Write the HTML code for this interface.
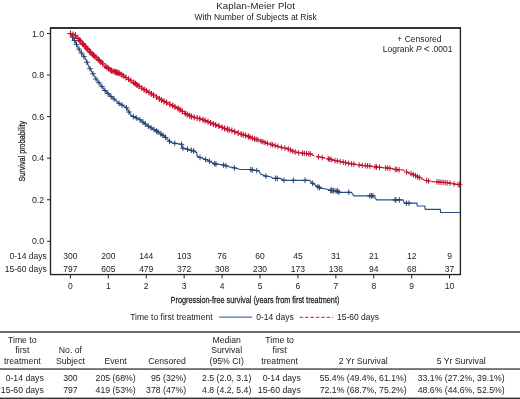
<!DOCTYPE html><html><head><meta charset="utf-8"><style>html,body{margin:0;padding:0;background:#fff;}svg{display:block;will-change:transform;font-family:"Liberation Sans",sans-serif;}</style></head><body><svg width="520" height="399" viewBox="0 0 520 399">
<rect width="520" height="399" fill="#fff"/>
<text x="255.6" y="8.9" font-size="9.6" text-anchor="middle" textLength="78.8" fill="#222">Kaplan-Meier Plot</text>
<text x="255.7" y="19.7" font-size="8.5" text-anchor="middle" fill="#222">With Number of Subjects at Risk</text>
<rect x="50.5" y="27.95" width="409.9" height="246.6" fill="none" stroke="#222" stroke-width="1.35"/>
<line x1="50" x2="461" y1="27.95" y2="27.95" stroke="#222" stroke-width="1.5"/>
<line x1="47" x2="50.5" y1="241.30" y2="241.30" stroke="#222" stroke-width="1"/>
<text x="44.2" y="244.30" font-size="8.8" text-anchor="end" fill="#222">0.0</text>
<line x1="47" x2="50.5" y1="199.74" y2="199.74" stroke="#222" stroke-width="1"/>
<text x="44.2" y="202.74" font-size="8.8" text-anchor="end" fill="#222">0.2</text>
<line x1="47" x2="50.5" y1="158.18" y2="158.18" stroke="#222" stroke-width="1"/>
<text x="44.2" y="161.18" font-size="8.8" text-anchor="end" fill="#222">0.4</text>
<line x1="47" x2="50.5" y1="116.62" y2="116.62" stroke="#222" stroke-width="1"/>
<text x="44.2" y="119.62" font-size="8.8" text-anchor="end" fill="#222">0.6</text>
<line x1="47" x2="50.5" y1="75.06" y2="75.06" stroke="#222" stroke-width="1"/>
<text x="44.2" y="78.06" font-size="8.8" text-anchor="end" fill="#222">0.8</text>
<line x1="47" x2="50.5" y1="33.50" y2="33.50" stroke="#222" stroke-width="1"/>
<text x="44.2" y="36.50" font-size="8.8" text-anchor="end" fill="#222">1.0</text>
<line x1="70.40" x2="70.40" y1="274.4" y2="278.3" stroke="#222" stroke-width="1"/>
<text x="70.40" y="288.7" font-size="8.5" text-anchor="middle" fill="#222">0</text>
<line x1="108.32" x2="108.32" y1="274.4" y2="278.3" stroke="#222" stroke-width="1"/>
<text x="108.32" y="288.7" font-size="8.5" text-anchor="middle" fill="#222">1</text>
<line x1="146.24" x2="146.24" y1="274.4" y2="278.3" stroke="#222" stroke-width="1"/>
<text x="146.24" y="288.7" font-size="8.5" text-anchor="middle" fill="#222">2</text>
<line x1="184.16" x2="184.16" y1="274.4" y2="278.3" stroke="#222" stroke-width="1"/>
<text x="184.16" y="288.7" font-size="8.5" text-anchor="middle" fill="#222">3</text>
<line x1="222.08" x2="222.08" y1="274.4" y2="278.3" stroke="#222" stroke-width="1"/>
<text x="222.08" y="288.7" font-size="8.5" text-anchor="middle" fill="#222">4</text>
<line x1="260.00" x2="260.00" y1="274.4" y2="278.3" stroke="#222" stroke-width="1"/>
<text x="260.00" y="288.7" font-size="8.5" text-anchor="middle" fill="#222">5</text>
<line x1="297.92" x2="297.92" y1="274.4" y2="278.3" stroke="#222" stroke-width="1"/>
<text x="297.92" y="288.7" font-size="8.5" text-anchor="middle" fill="#222">6</text>
<line x1="335.84" x2="335.84" y1="274.4" y2="278.3" stroke="#222" stroke-width="1"/>
<text x="335.84" y="288.7" font-size="8.5" text-anchor="middle" fill="#222">7</text>
<line x1="373.76" x2="373.76" y1="274.4" y2="278.3" stroke="#222" stroke-width="1"/>
<text x="373.76" y="288.7" font-size="8.5" text-anchor="middle" fill="#222">8</text>
<line x1="411.68" x2="411.68" y1="274.4" y2="278.3" stroke="#222" stroke-width="1"/>
<text x="411.68" y="288.7" font-size="8.5" text-anchor="middle" fill="#222">9</text>
<line x1="449.60" x2="449.60" y1="274.4" y2="278.3" stroke="#222" stroke-width="1"/>
<text x="449.60" y="288.7" font-size="8.5" text-anchor="middle" fill="#222">10</text>
<text transform="translate(24.8,151.2) rotate(-90) scale(0.77,1)" x="0" y="0" font-size="9.4" text-anchor="middle" fill="#222" stroke="#222" stroke-width="0.25">Survival probability</text>
<text transform="translate(255,303.1) scale(0.778,1)" x="0" y="0" font-size="9.4" text-anchor="middle" fill="#222" stroke="#222" stroke-width="0.25">Progression-free survival (years from first treatment)</text>
<text x="46.8" y="258.8" font-size="8.5" text-anchor="end" fill="#222">0-14 days</text>
<text x="46.8" y="271.6" font-size="8.5" text-anchor="end" fill="#222">15-60 days</text>
<text x="70.40" y="258.8" font-size="8.5" text-anchor="middle" fill="#222">300</text>
<text x="70.40" y="271.6" font-size="8.5" text-anchor="middle" fill="#222">797</text>
<text x="108.32" y="258.8" font-size="8.5" text-anchor="middle" fill="#222">200</text>
<text x="108.32" y="271.6" font-size="8.5" text-anchor="middle" fill="#222">605</text>
<text x="146.24" y="258.8" font-size="8.5" text-anchor="middle" fill="#222">144</text>
<text x="146.24" y="271.6" font-size="8.5" text-anchor="middle" fill="#222">479</text>
<text x="184.16" y="258.8" font-size="8.5" text-anchor="middle" fill="#222">103</text>
<text x="184.16" y="271.6" font-size="8.5" text-anchor="middle" fill="#222">372</text>
<text x="222.08" y="258.8" font-size="8.5" text-anchor="middle" fill="#222">76</text>
<text x="222.08" y="271.6" font-size="8.5" text-anchor="middle" fill="#222">308</text>
<text x="260.00" y="258.8" font-size="8.5" text-anchor="middle" fill="#222">60</text>
<text x="260.00" y="271.6" font-size="8.5" text-anchor="middle" fill="#222">230</text>
<text x="297.92" y="258.8" font-size="8.5" text-anchor="middle" fill="#222">45</text>
<text x="297.92" y="271.6" font-size="8.5" text-anchor="middle" fill="#222">173</text>
<text x="335.84" y="258.8" font-size="8.5" text-anchor="middle" fill="#222">31</text>
<text x="335.84" y="271.6" font-size="8.5" text-anchor="middle" fill="#222">136</text>
<text x="373.76" y="258.8" font-size="8.5" text-anchor="middle" fill="#222">21</text>
<text x="373.76" y="271.6" font-size="8.5" text-anchor="middle" fill="#222">94</text>
<text x="411.68" y="258.8" font-size="8.5" text-anchor="middle" fill="#222">12</text>
<text x="411.68" y="271.6" font-size="8.5" text-anchor="middle" fill="#222">68</text>
<text x="449.60" y="258.8" font-size="8.5" text-anchor="middle" fill="#222">9</text>
<text x="449.60" y="271.6" font-size="8.5" text-anchor="middle" fill="#222">37</text>
<text x="441.5" y="41.5" font-size="8.5" text-anchor="end" fill="#222">+ Censored</text>
<text x="421.6" y="52.2" font-size="8.5" text-anchor="end" fill="#222">Logrank <tspan font-style="italic">P</tspan></text>
<path d="M429.3,46.5 L424.3,48.85 L429.3,51.2" fill="none" stroke="#222" stroke-width="0.85"/>
<text x="431.2" y="52.2" font-size="8.5" fill="#222">.0001</text>
<path d="M70.0,33.5 L73.0,38.0 L75.0,41.3 L77.3,46.0 L80.3,51.5 L83.0,55.0 L86.0,60.0 L89.0,67.0 L92.0,72.0 L96.0,79.0 L100.0,84.0 L105.0,90.5 L110.0,95.5 L119.0,103.3 L126.5,107.8 L131.0,115.3 L140.0,119.8 L147.6,125.8 L156.6,131.0 L165.0,136.8 L169.5,141.3 L171.8,142.8 L181.5,144.3 L182.3,148.0 L186.0,148.8 L193.6,151.0 L196.6,152.6 L197.3,156.3 L201.0,157.8 L207.0,160.0 L214.6,163.8 L220.0,164.5 L224.5,165.2 L227.5,166.5 L233.5,167.7 L240.3,169.5 L250.0,169.5 L259.0,171.0 L260.6,174.0 L265.0,175.9 L271.0,177.0 L273.4,178.4 L280.3,178.4 L283.3,180.3 L309.6,180.3 L311.8,182.7 L314.8,184.8 L319.4,187.6 L321.6,188.3 L326.0,189.0 L330.6,190.4 L334.5,190.6 L338.3,191.2 L339.0,192.3 L351.0,192.3 L352.6,193.8 L354.0,195.8 L373.6,195.8 L375.0,197.6 L376.6,199.9 L403.0,199.9 L403.8,201.8 L404.5,203.2 L416.9,203.2 L417.3,206.0 L424.8,206.0 L425.3,209.3 L440.3,209.3 L440.6,212.5 L460.0,212.5" stroke="#28508a" stroke-width="1.2" fill="none"/>
<path d="M69.7,37.2h5.6M72.5,34.5v5.6M71.7,40.5h5.6M74.5,37.7v5.6M73.7,44.4h5.6M76.5,41.6v5.6M76.2,49.1h5.6M79.0,46.3v5.6M78.7,53.1h5.6M81.5,50.3v5.6M81.2,56.7h5.6M84.0,53.9v5.6M84.2,62.3h5.6M87.0,59.5v5.6M87.2,68.7h5.6M90.0,65.9v5.6M90.2,73.8h5.6M93.0,71.0v5.6M93.2,79.0h5.6M96.0,76.2v5.6M96.2,82.8h5.6M99.0,80.0v5.6M99.2,86.6h5.6M102.0,83.8v5.6M102.2,90.5h5.6M105.0,87.7v5.6M105.2,93.5h5.6M108.0,90.7v5.6M108.2,96.4h5.6M111.0,93.6v5.6M111.2,99.0h5.6M114.0,96.2v5.6M116.2,103.3h5.6M119.0,100.5v5.6M119.2,105.1h5.6M122.0,102.3v5.6M123.7,107.8h5.6M126.5,105.0v5.6M126.2,112.0h5.6M129.0,109.2v5.6M130.5,116.5h5.6M133.3,113.7v5.6M133.5,118.0h5.6M136.3,115.2v5.6M137.2,119.8h5.6M140.0,117.0v5.6M140.2,122.2h5.6M143.0,119.4v5.6M142.5,124.0h5.6M145.3,121.2v5.6M145.5,126.2h5.6M148.3,123.4v5.6M148.2,127.8h5.6M151.0,125.0v5.6M151.2,129.5h5.6M154.0,126.7v5.6M153.8,131.0h5.6M156.6,128.2v5.6M155.2,132.0h5.6M158.0,129.2v5.6M158.2,134.0h5.6M161.0,131.2v5.6M160.2,135.4h5.6M163.0,132.6v5.6M162.8,137.4h5.6M165.6,134.6v5.6M166.7,141.3h5.6M169.5,138.5v5.6M172.0,143.3h5.6M174.8,140.5v5.6M178.7,144.3h5.6M181.5,141.5v5.6M180.2,148.2h5.6M183.0,145.4v5.6M184.7,149.2h5.6M187.5,146.4v5.6M188.5,150.3h5.6M191.3,147.5v5.6M190.8,151.0h5.6M193.6,148.2v5.6M197.2,157.4h5.6M200.0,154.6v5.6M202.8,159.5h5.6M205.6,156.7v5.6M206.6,161.2h5.6M209.4,158.4v5.6M211.8,163.8h5.6M214.6,161.0v5.6M213.2,164.0h5.6M216.0,161.2v5.6M220.8,165.1h5.6M223.6,162.3v5.6M223.2,165.8h5.6M226.0,163.0v5.6M231.5,167.9h5.6M234.3,165.1v5.6M248.0,169.6h5.6M250.8,166.8v5.6M249.5,169.9h5.6M252.3,167.1v5.6M254.0,170.6h5.6M256.8,167.8v5.6M263.1,176.1h5.6M265.9,173.3v5.6M272.8,178.4h5.6M275.6,175.6v5.6M274.5,178.4h5.6M277.3,175.6v5.6M281.2,180.3h5.6M284.0,177.5v5.6M290.5,180.3h5.6M293.3,177.5v5.6M302.2,180.3h5.6M305.0,177.5v5.6M309.8,183.3h5.6M312.6,180.5v5.6M315.1,186.7h5.6M317.9,183.9v5.6M316.6,187.6h5.6M319.4,184.8v5.6M328.0,190.4h5.6M330.8,187.6v5.6M328.6,190.4h5.6M331.4,187.6v5.6M330.1,190.5h5.6M332.9,187.7v5.6M331.0,190.6h5.6M333.8,187.8v5.6M333.2,190.8h5.6M336.0,188.0v5.6M334.7,191.1h5.6M337.5,188.3v5.6M336.2,192.3h5.6M339.0,189.5v5.6M346.0,192.3h5.6M348.8,189.5v5.6M367.0,195.8h5.6M369.8,193.0v5.6M368.6,195.8h5.6M371.4,193.0v5.6M370.1,195.8h5.6M372.9,193.0v5.6M392.4,199.9h5.6M395.2,197.1v5.6M393.0,199.9h5.6M395.8,197.1v5.6M396.5,199.9h5.6M399.3,197.1v5.6M403.6,203.2h5.6M406.4,200.4v5.6M406.2,203.2h5.6M409.0,200.4v5.6" stroke="#1d3d6a" stroke-width="0.95" fill="none"/>
<path d="M70.0,33.4 L75.4,35.2 L77.9,38.2 L80.0,41.0 L85.0,46.0 L90.0,52.0 L95.0,56.5 L100.0,61.0 L105.0,66.0 L112.0,71.0 L120.0,73.5 L125.0,77.0 L133.0,82.0 L140.0,87.0 L147.5,91.5 L155.0,96.0 L162.6,100.6 L170.0,104.3 L177.6,108.0 L185.0,113.3 L191.0,116.4 L199.4,118.6 L202.5,119.5 L210.0,122.6 L217.6,125.6 L225.0,128.6 L232.6,130.8 L240.0,133.8 L247.6,136.1 L254.4,139.0 L257.5,139.7 L265.0,142.6 L272.6,144.8 L280.0,147.0 L287.6,148.6 L293.6,151.6 L299.6,153.0 L309.4,153.8 L311.0,154.2 L314.0,155.8 L318.5,156.8 L323.0,157.6 L329.0,159.0 L335.0,160.6 L342.6,162.0 L350.0,163.6 L357.6,164.8 L364.4,165.6 L367.5,165.8 L375.0,166.8 L382.6,167.6 L390.0,168.3 L397.6,169.8 L403.6,170.0 L406.6,172.0 L411.0,173.6 L414.1,175.0 L418.3,177.1 L422.4,179.1 L426.6,180.5 L430.7,181.5 L437.6,181.9 L445.9,182.6 L451.4,183.3 L455.5,184.2 L460.0,184.7" stroke="#c8102e" stroke-width="1.2" fill="none" stroke-dasharray="3.4,2"/>
<path d="M67.5,33.6h6.0M70.5,30.6v6.0M70.0,34.4h6.0M73.0,31.4v6.0M72.4,35.2h6.0M75.4,32.2v6.0M75.0,38.3h6.0M78.0,35.3v6.0M76.5,40.3h6.0M79.5,37.3v6.0M77.7,41.7h6.0M80.7,38.7v6.0M79.6,43.6h6.0M82.6,40.6v6.0M80.7,44.7h6.0M83.7,41.7v6.0M82.4,46.5h6.0M85.4,43.5v6.0M83.9,48.3h6.0M86.9,45.3v6.0M85.0,49.6h6.0M88.0,46.6v6.0M86.7,51.7h6.0M89.7,48.7v6.0M87.8,52.7h6.0M90.8,49.7v6.0M89.4,54.2h6.0M92.4,51.2v6.0M90.5,55.1h6.0M93.5,52.1v6.0M91.6,56.2h6.0M94.6,53.2v6.0M93.2,57.6h6.0M96.2,54.6v6.0M95.4,59.5h6.0M98.4,56.5v6.0M96.5,60.6h6.0M99.5,57.6v6.0M97.9,61.9h6.0M100.9,58.9v6.0M99.7,63.7h6.0M102.7,60.7v6.0M102.1,66.0h6.0M105.1,63.0v6.0M103.9,67.3h6.0M106.9,64.3v6.0M105.4,68.4h6.0M108.4,65.4v6.0M107.8,70.1h6.0M110.8,67.1v6.0M108.9,70.9h6.0M111.9,67.9v6.0M111.1,71.6h6.0M114.1,68.6v6.0M112.5,72.1h6.0M115.5,69.1v6.0M113.7,72.5h6.0M116.7,69.5v6.0M114.8,72.8h6.0M117.8,69.8v6.0M116.3,73.3h6.0M119.3,70.3v6.0M118.4,74.5h6.0M121.4,71.5v6.0M120.3,75.8h6.0M123.3,72.8v6.0M123.0,77.6h6.0M126.0,74.6v6.0M125.7,79.3h6.0M128.7,76.3v6.0M128.0,80.7h6.0M131.0,77.7v6.0M130.6,82.4h6.0M133.6,79.4v6.0M132.3,83.6h6.0M135.3,80.6v6.0M134.0,84.9h6.0M137.0,81.9v6.0M136.0,86.3h6.0M139.0,83.3v6.0M138.8,88.1h6.0M141.8,85.1v6.0M141.2,89.5h6.0M144.2,86.5v6.0M143.3,90.8h6.0M146.3,87.8v6.0M146.0,92.4h6.0M149.0,89.4v6.0M148.4,93.8h6.0M151.4,90.8v6.0M150.5,95.1h6.0M153.5,92.1v6.0M153.6,97.0h6.0M156.6,94.0v6.0M156.4,98.7h6.0M159.4,95.7v6.0M158.5,99.9h6.0M161.5,96.9v6.0M161.1,101.4h6.0M164.1,98.4v6.0M163.6,102.6h6.0M166.6,99.6v6.0M166.8,104.2h6.0M169.8,101.2v6.0M169.7,105.6h6.0M172.7,102.6v6.0M171.9,106.7h6.0M174.9,103.7v6.0M175.2,108.4h6.0M178.2,105.4v6.0M177.0,109.7h6.0M180.0,106.7v6.0M179.4,111.4h6.0M182.4,108.4v6.0M182.3,113.5h6.0M185.3,110.5v6.0M184.2,114.4h6.0M187.2,111.4v6.0M186.7,115.7h6.0M189.7,112.7v6.0M188.4,116.5h6.0M191.4,113.5v6.0M191.2,117.2h6.0M194.2,114.2v6.0M194.1,118.0h6.0M197.1,115.0v6.0M196.8,118.7h6.0M199.8,115.7v6.0M200.0,119.7h6.0M203.0,116.7v6.0M202.1,120.6h6.0M205.1,117.6v6.0M205.0,121.8h6.0M208.0,118.8v6.0M207.6,122.9h6.0M210.6,119.9v6.0M210.3,123.9h6.0M213.3,120.9v6.0M212.7,124.9h6.0M215.7,121.9v6.0M215.8,126.1h6.0M218.8,123.1v6.0M219.1,127.4h6.0M222.1,124.4v6.0M221.6,128.4h6.0M224.6,125.4v6.0M224.4,129.3h6.0M227.4,126.3v6.0M226.1,129.8h6.0M229.1,126.8v6.0M228.9,130.6h6.0M231.9,127.6v6.0M231.7,131.7h6.0M234.7,128.7v6.0M235.1,133.0h6.0M238.1,130.0v6.0M238.2,134.2h6.0M241.2,131.2v6.0M240.3,134.8h6.0M243.3,131.8v6.0M242.6,135.5h6.0M245.6,132.5v6.0M245.4,136.4h6.0M248.4,133.4v6.0" stroke="#c8102e" stroke-width="1.15" fill="none"/>
<path d="M247.2,137.1h5.6M250.0,134.3v5.6M249.8,138.2h5.6M252.6,135.4v5.6M251.7,139.0h5.6M254.5,136.2v5.6M253.4,139.4h5.6M256.2,136.6v5.6M255.1,139.8h5.6M257.9,137.0v5.6M258.3,141.1h5.6M261.1,138.3v5.6M260.1,141.8h5.6M262.9,139.0v5.6M262.2,142.6h5.6M265.0,139.8v5.6M264.6,143.3h5.6M267.4,140.5v5.6M268.1,144.3h5.6M270.9,141.5v5.6M269.8,144.8h5.6M272.6,142.0v5.6M272.3,145.6h5.6M275.1,142.8v5.6M275.1,146.4h5.6M277.9,143.6v5.6M278.6,147.3h5.6M281.4,144.5v5.6M282.0,148.0h5.6M284.8,145.2v5.6M285.5,149.0h5.6M288.3,146.2v5.6M287.6,150.0h5.6M290.4,147.2v5.6M290.1,151.2h5.6M292.9,148.4v5.6M292.4,152.0h5.6M295.2,149.2v5.6M296.0,152.8h5.6M298.8,150.0v5.6M299.7,153.2h5.6M302.5,150.4v5.6M301.5,153.4h5.6M304.3,150.6v5.6M303.7,153.6h5.6M306.5,150.8v5.6M306.0,153.8h5.6M308.8,151.0v5.6M307.5,154.0h5.6M310.3,151.2v5.6M315.7,156.8h5.6M318.5,154.0v5.6M319.5,157.5h5.6M322.3,154.7v5.6M325.5,158.8h5.6M328.3,156.0v5.6M327.0,159.2h5.6M329.8,156.4v5.6M328.5,159.6h5.6M331.3,156.8v5.6M332.2,160.6h5.6M335.0,157.8v5.6M334.5,161.0h5.6M337.3,158.2v5.6M337.5,161.6h5.6M340.3,158.8v5.6M340.5,162.2h5.6M343.3,159.4v5.6M342.8,162.6h5.6M345.6,159.8v5.6M345.8,163.3h5.6M348.6,160.5v5.6M348.8,163.9h5.6M351.6,161.1v5.6M351.1,164.2h5.6M353.9,161.4v5.6M356.3,165.0h5.6M359.1,162.2v5.6M359.5,165.4h5.6M362.3,162.6v5.6M362.5,165.7h5.6M365.3,162.9v5.6M364.7,165.8h5.6M367.5,163.0v5.6M367.0,166.1h5.6M369.8,163.3v5.6M372.2,166.8h5.6M375.0,164.0v5.6M373.7,167.0h5.6M376.5,164.2v5.6M376.7,167.3h5.6M379.5,164.5v5.6M382.8,167.9h5.6M385.6,165.1v5.6M385.0,168.1h5.6M387.8,165.3v5.6M387.2,168.3h5.6M390.0,165.5v5.6M392.5,169.3h5.6M395.3,166.5v5.6M394.0,169.6h5.6M396.8,166.8v5.6M396.3,169.9h5.6M399.1,167.1v5.6M403.8,172.0h5.6M406.6,169.2v5.6M408.2,173.6h5.6M411.0,170.8v5.6M410.6,174.7h5.6M413.4,171.9v5.6M412.7,175.7h5.6M415.5,172.9v5.6M414.8,176.8h5.6M417.6,173.9v5.6M416.9,177.8h5.6M419.7,175.0v5.6M423.8,180.5h5.6M426.6,177.7v5.6M425.8,181.0h5.6M428.6,178.2v5.6M434.1,181.9h5.6M436.9,179.1v5.6M436.2,182.0h5.6M439.0,179.2v5.6M438.2,182.2h5.6M441.0,179.4v5.6M440.3,182.4h5.6M443.1,179.6v5.6M442.4,182.5h5.6M445.2,179.7v5.6M444.4,182.8h5.6M447.2,180.0v5.6M447.2,183.1h5.6M450.0,180.3v5.6M451.3,183.9h5.6M454.1,181.1v5.6M455.2,184.5h5.6M458.0,181.7v5.6M456.7,184.6h5.6M459.5,181.8v5.6" stroke="#b8102c" stroke-width="0.95" fill="none"/>
<text x="212.5" y="320" font-size="8.5" text-anchor="end" fill="#222">Time to first treatment</text>
<line x1="219" x2="252.3" y1="317.1" y2="317.1" stroke="#28508a" stroke-width="1.0"/>
<text x="256.3" y="320" font-size="8.5" fill="#222">0-14 days</text>
<line x1="299.7" x2="333" y1="317.3" y2="317.3" stroke="#c8102e" stroke-width="1.0" stroke-dasharray="3.4,2"/>
<text x="337" y="320" font-size="8.5" fill="#222">15-60 days</text>
<rect x="0" y="331.3" width="520" height="1.4" fill="#333"/>
<rect x="0" y="368.4" width="520" height="1.3" fill="#333"/>
<rect x="0" y="397.6" width="520" height="1.4" fill="#333"/>
<text x="22.3" y="342.6" font-size="8.7" text-anchor="middle" fill="#222">Time to</text>
<text x="22.3" y="353.2" font-size="8.7" text-anchor="middle" fill="#222">first</text>
<text x="22.3" y="363.5" font-size="8.7" text-anchor="middle" fill="#222">treatment</text>
<text x="70.4" y="353.2" font-size="8.7" text-anchor="middle" fill="#222">No. of</text>
<text x="70.4" y="363.5" font-size="8.7" text-anchor="middle" fill="#222">Subject</text>
<text x="115.6" y="363.5" font-size="8.7" text-anchor="middle" fill="#222">Event</text>
<text x="167" y="363.5" font-size="8.7" text-anchor="middle" fill="#222">Censored</text>
<text x="226.7" y="342.6" font-size="8.7" text-anchor="middle" fill="#222">Median</text>
<text x="226.7" y="353.2" font-size="8.7" text-anchor="middle" fill="#222">Survival</text>
<text x="226.7" y="363.5" font-size="8.7" text-anchor="middle" fill="#222">(95% CI)</text>
<text x="279.6" y="342.6" font-size="8.7" text-anchor="middle" fill="#222">Time to</text>
<text x="279.6" y="353.2" font-size="8.7" text-anchor="middle" fill="#222">first</text>
<text x="279.6" y="363.5" font-size="8.7" text-anchor="middle" fill="#222">treatment</text>
<text x="363.2" y="363.5" font-size="8.7" text-anchor="middle" fill="#222">2 Yr Survival</text>
<text x="461.2" y="363.5" font-size="8.7" text-anchor="middle" fill="#222">5 Yr Survival</text>
<text x="43.8" y="380.6" font-size="8.7" text-anchor="end" fill="#222">0-14 days</text>
<text x="70.4" y="380.6" font-size="8.7" text-anchor="middle" fill="#222">300</text>
<text x="115.6" y="380.6" font-size="8.7" text-anchor="middle" fill="#222">205 (68%)</text>
<text x="186.2" y="380.6" font-size="8.7" text-anchor="end" fill="#222">95 (32%)</text>
<text x="226.7" y="380.6" font-size="8.7" text-anchor="middle" fill="#222">2.5 (2.0, 3.1)</text>
<text x="300.8" y="380.6" font-size="8.7" text-anchor="end" fill="#222">0-14 days</text>
<text x="363.2" y="380.6" font-size="8.7" text-anchor="middle" fill="#222">55.4% (49.4%, 61.1%)</text>
<text x="461.2" y="380.6" font-size="8.7" text-anchor="middle" fill="#222">33.1% (27.2%, 39.1%)</text>
<text x="43.8" y="393.2" font-size="8.7" text-anchor="end" fill="#222">15-60 days</text>
<text x="70.4" y="393.2" font-size="8.7" text-anchor="middle" fill="#222">797</text>
<text x="115.6" y="393.2" font-size="8.7" text-anchor="middle" fill="#222">419 (53%)</text>
<text x="186.2" y="393.2" font-size="8.7" text-anchor="end" fill="#222">378 (47%)</text>
<text x="226.7" y="393.2" font-size="8.7" text-anchor="middle" fill="#222">4.8 (4.2, 5.4)</text>
<text x="300.8" y="393.2" font-size="8.7" text-anchor="end" fill="#222">15-60 days</text>
<text x="363.2" y="393.2" font-size="8.7" text-anchor="middle" fill="#222">72.1% (68.7%, 75.2%)</text>
<text x="461.2" y="393.2" font-size="8.7" text-anchor="middle" fill="#222">48.6% (44.6%, 52.5%)</text>
</svg></body></html>
